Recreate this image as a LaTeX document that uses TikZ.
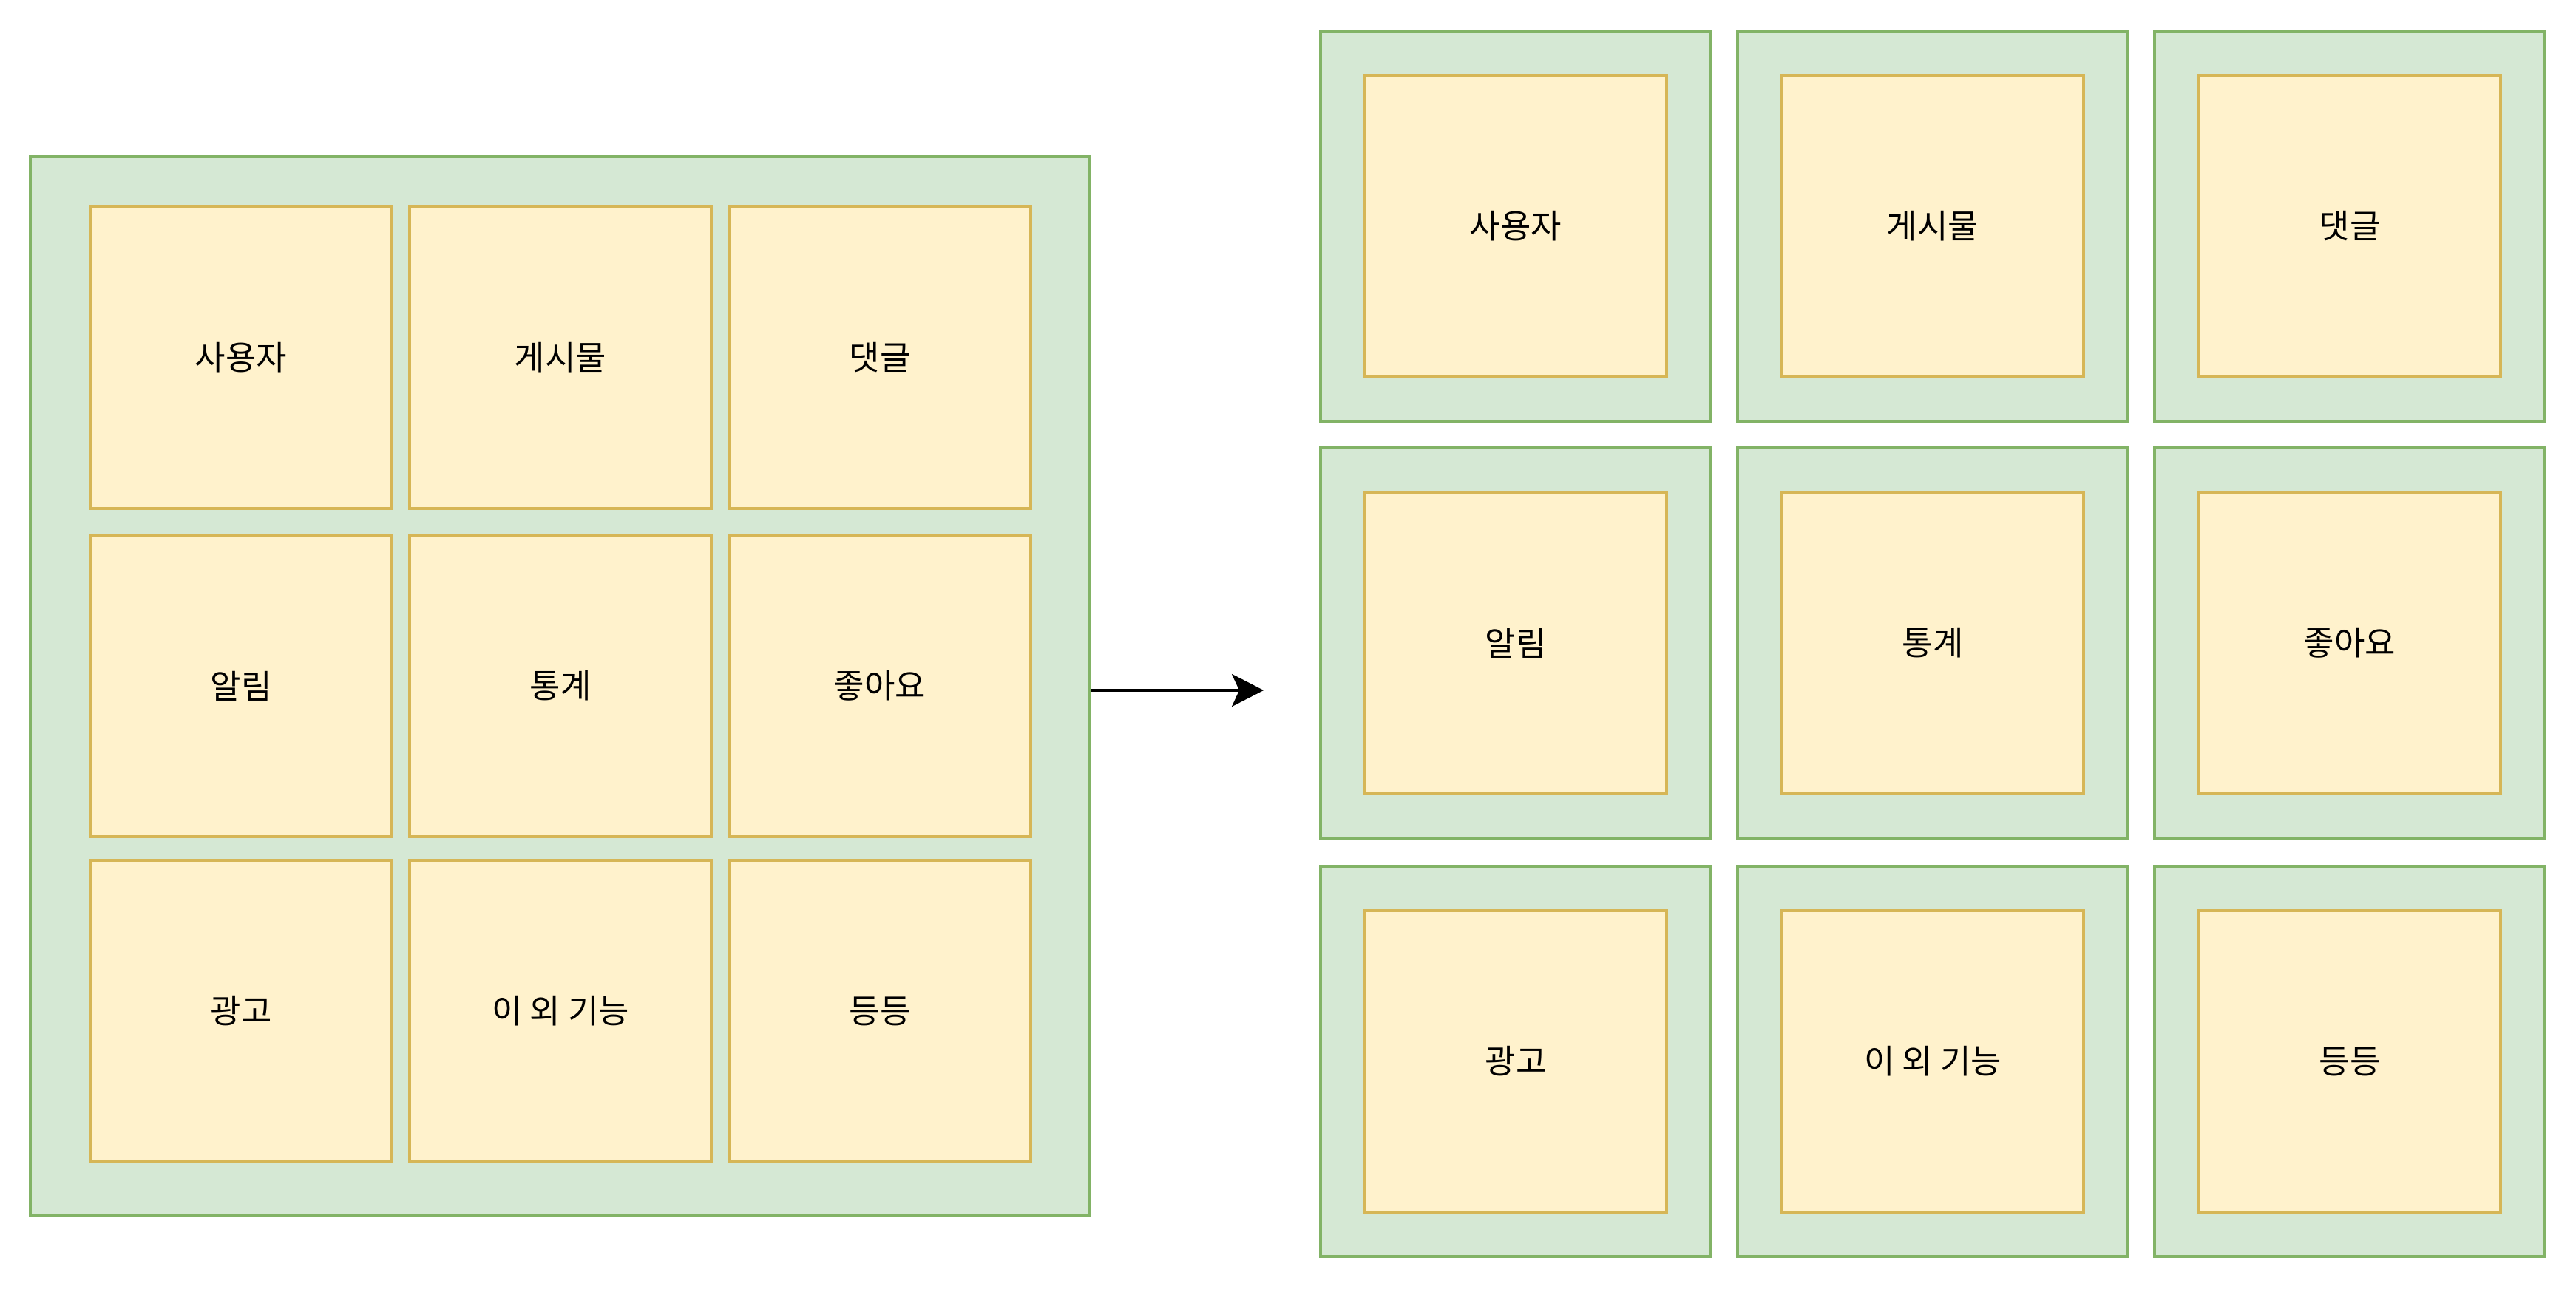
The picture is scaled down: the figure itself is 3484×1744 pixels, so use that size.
\documentclass[tikz,border=0pt]{standalone}
\usepackage{fontspec}
\newfontfamily\krfont{Noto Sans CJK KR}
\usetikzlibrary{arrows.meta}
\definecolor{gfill}{HTML}{D5E8D4}
\definecolor{gline}{HTML}{82B366}
\definecolor{yfill}{HTML}{FFF2CC}
\definecolor{yline}{HTML}{D6B656}
\begin{document}
\begin{tikzpicture}[x=0.5pt,y=-0.5pt,
  bigbox/.style={draw=gline, fill=gfill, line width=2pt, inner sep=0pt,
    minimum width=716.5pt, minimum height=716pt},
  outerbox/.style={draw=gline, fill=gfill, line width=2pt, inner sep=0pt,
    minimum width=264pt, minimum height=264pt},
  item/.style={draw=yline, fill=yfill, line width=2pt, inner sep=0pt,
    minimum width=204pt, minimum height=204pt,
    font=\krfont\fontsize{22.5}{27}\selectfont},
  conn/.style={line width=1.7pt, -{Stealth[length=21.5pt,width=22pt,inset=5pt]}}]
\useasboundingbox (0,0) rectangle (3484,1744);
\fill[white] (0,0) rectangle (3484,1744);

% left: all features inside one box
\node[bigbox] (big) at (757.5,928) {};
\node[item] (l11) at (326,484) {사용자};
\node[item] (l12) at (758,484) {게시물};
\node[item] (l13) at (1190,484) {댓글};
\node[item] (l21) at (326,928) {알림};
\node[item] (l22) at (758,928) {통계};
\node[item] (l23) at (1190,928) {좋아요};
\node[item] (l31) at (326,1368) {광고};
\node[item] (l32) at (758,1368) {이 외 기능};
\node[item] (l33) at (1190,1368) {등등};

% right: each feature in its own box
\node[outerbox] (o11) at (2050,306) {};
\node[outerbox] (o12) at (2614,306) {};
\node[outerbox] (o13) at (3178,306) {};
\node[outerbox] (o21) at (2050,870) {};
\node[outerbox] (o22) at (2614,870) {};
\node[outerbox] (o23) at (3178,870) {};
\node[outerbox] (o31) at (2050,1436) {};
\node[outerbox] (o32) at (2614,1436) {};
\node[outerbox] (o33) at (3178,1436) {};

\node[item] (r11) at (o11) {사용자};
\node[item] (r12) at (o12) {게시물};
\node[item] (r13) at (o13) {댓글};
\node[item] (r21) at (o21) {알림};
\node[item] (r22) at (o22) {통계};
\node[item] (r23) at (o23) {좋아요};
\node[item] (r31) at (o31) {광고};
\node[item] (r32) at (o32) {이 외 기능};
\node[item] (r33) at (o33) {등등};

% arrow
\coordinate (tip) at (1709,934);
\draw[conn] (big.east |- tip) -- (tip);
\end{tikzpicture}
\end{document}
